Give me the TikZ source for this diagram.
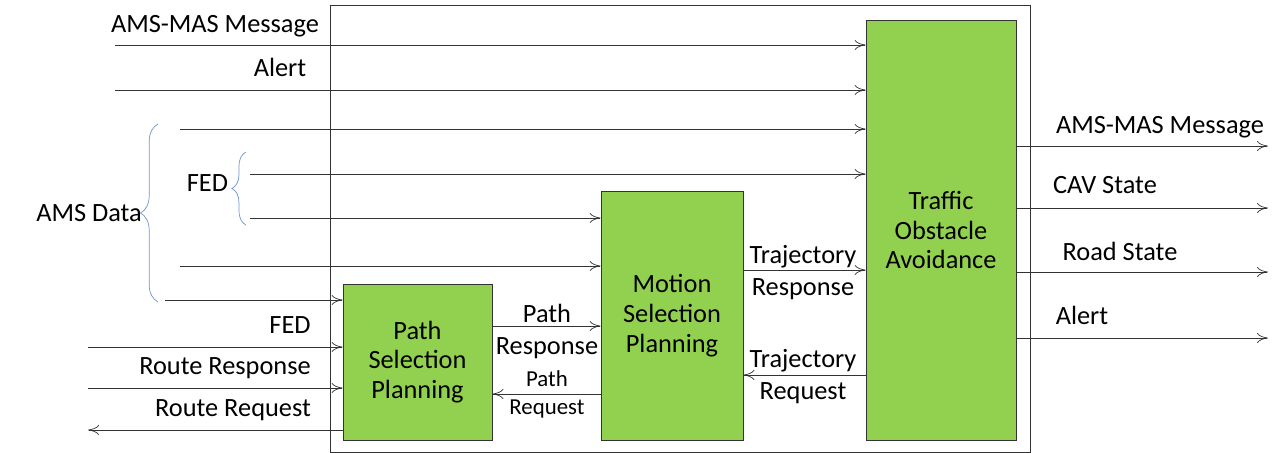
\documentclass[tikz,border=0pt]{standalone}
\usepackage{fontspec}
\setmainfont{Carlito}
\usetikzlibrary{arrows.meta,positioning,decorations.pathreplacing}
\definecolor{blockgreen}{HTML}{92D050}
\definecolor{bracecol}{HTML}{6F95D2}

\begin{document}
\begin{tikzpicture}[x=0.02cm,y=-0.02cm,font=\fontsize{15}{17}\selectfont,
    block/.style={draw=black!80, fill=blockgreen, align=center, inner sep=0pt},
    sig/.style={-{To[length=2.2mm,width=2mm]}, black!80},
    lbl/.style={inner sep=0pt, anchor=base}]
    \useasboundingbox (0,0) rectangle (1282,453);
    \draw[black!80] (330,5) rectangle (1030,452);
    \node(toa) [block, minimum width=150*0.02cm, minimum height=420*0.02cm] at (941,230) {Traffic\\Obstacle\\Avoidance};
    \node(msp) [block, minimum width=142*0.02cm, minimum height=249*0.02cm] at (672,315.5) {Motion\\Selection\\Planning};
    \node(psp) [block, minimum width=149*0.02cm, minimum height=156*0.02cm] at (417.5,362) {Path\\Selection\\Planning};

    % free ends on the left
    \foreach \n/\x/\y in {a1/115/45, a2/115/90, a3/180/129, a4/250/174, a5/250/218, a6/180/266, a7/165/300, a8/88/347, a9/88/388, a10/88/430}
        \coordinate (\n) at (\x,\y);
    % free ends on the right
    \foreach \n/\y in {o1/146, o2/208, o3/272, o4/338}
        \coordinate (\n) at (1268,\y);

    \foreach \n in {a1,a2,a3,a4}
        \draw[sig] (\n) -- (\n -| toa.west);
    \foreach \n in {a5,a6}
        \draw[sig] (\n) -- (\n -| msp.west);
    \foreach \n in {a7,a8,a9}
        \draw[sig] (\n) -- (\n -| psp.west);
    \draw[sig] (a10 -| psp.west) -- (a10);
    \foreach \n in {o1,o2,o3,o4}
        \draw[sig] (\n -| toa.east) -- (\n);

    \coordinate (pr) at (0,326);
    \coordinate (pq) at (0,394);
    \coordinate (tr) at (0,270);
    \coordinate (tq) at (0,375);
    \draw[sig] (pr -| psp.east) -- (pr -| msp.west);
    \draw[sig] (pq -| msp.west) -- (pq -| psp.east);
    \draw[sig] (tr -| msp.east) -- (tr -| toa.west);
    \draw[sig] (tq -| toa.west) -- (tq -| msp.east);

    % labels
    \node[lbl] at (215,32) {AMS-MAS Message};
    \node[lbl] at (280,76) {Alert};
    \node[lbl] at (290,333) {FED};
    \node[lbl] at (225,374) {Route Response};
    \node[lbl] at (233,416) {Route Request};
    \node[lbl] at (547,322) {Path};
    \node[lbl] at (547,354) {Response};
    \node[lbl, font=\fontsize{13}{15}\selectfont] at (547,386) {Path};
    \node[lbl, font=\fontsize{13}{15}\selectfont] at (547,414) {Request};
    \node[lbl] at (803,263) {Trajectory};
    \node[lbl] at (803,295) {Response};
    \node[lbl] at (803,367) {Trajectory};
    \node[lbl] at (803,399) {Request};
    \node[lbl] at (1160,133) {AMS-MAS Message};
    \node[lbl] at (1105,193) {CAV State};
    \node[lbl] at (1120,260) {Road State};
    \node[lbl] at (1082,324) {Alert};

    % braces
    \coordinate (b1) at (158,124);
    \coordinate (b2) at (158,302);
    \coordinate (c1) at (246,152);
    \coordinate (c2) at (246,225);
    \draw[bracecol, decorate, decoration={brace, amplitude=10pt}] (b2) -- (b1)
        node(ams) [midway, left=9pt, black, inner sep=0pt] {AMS Data};
    \draw[bracecol, decorate, decoration={brace, amplitude=8pt}] (c2) -- (c1)
        node(fed) [midway, left=10pt, black, inner sep=0pt, yshift=3pt] {FED};
\end{tikzpicture}
\end{document}
